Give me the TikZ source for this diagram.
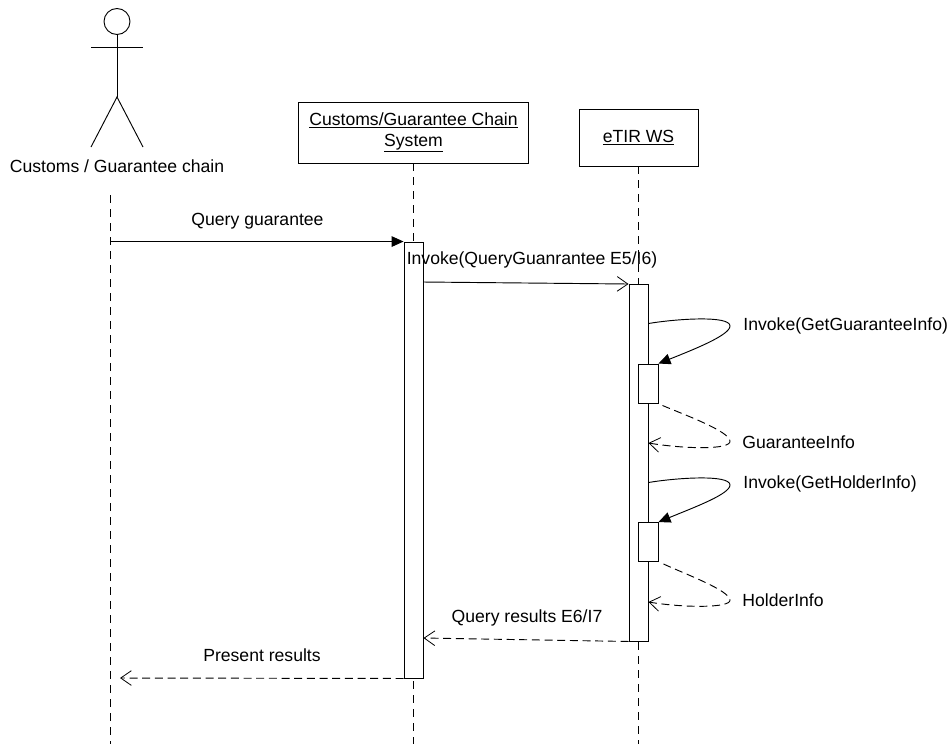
\documentclass[tikz,border=0pt]{standalone}
\usepackage{fontspec}
\setmainfont{Liberation Sans}
\usetikzlibrary{arrows.meta,calc}
\begin{document}
\begin{tikzpicture}[x=0.75pt,y=-0.75pt,line width=0.7pt,
  box/.style={draw,fill=white,inner sep=0pt,align=center,font=\fontsize{13.2}{15.75}\selectfont},
  lbl/.style={inner sep=0pt,font=\fontsize{13.2}{15.75}\selectfont},
  life/.style={dash pattern=on 6pt off 4.5pt},
  ret/.style={dash pattern=on 6pt off 3.5pt,-{Straight Barb[length=8pt,width=11pt,line width=0.6pt]}},
  callf/.style={-{Triangle[length=9pt,width=8pt,fill=black]}},
  callo/.style={-{Straight Barb[length=8pt,width=11pt,line width=0.6pt]}}]
\useasboundingbox (0,0) rectangle (952,744);
% lifeline ends
\coordinate (aTop) at (110,195); \coordinate (aEnd) at (110,744);
\coordinate (bEnd) at (413.5,744); \coordinate (cEnd) at (638.5,744);
% actor
\node[draw,circle,minimum size=19.5pt,inner sep=0pt] (head) at (117,21.5) {};
\coordinate (hip) at (117,97);
\coordinate (armL) at (91,47); \coordinate (armR) at (143,47);
\coordinate (legL) at (91,147); \coordinate (legR) at (143,147);
\draw (head.south) -- (hip);
\draw (armL) -- (armR);
\draw (legL) -- (hip) -- (legR);
\node[lbl] (actor) at (117,166) {Customs / Guarantee chain};
% heads
\node[box,minimum width=173pt,minimum height=45.75pt] (cg) at (413.5,132.5) {\underline{Customs/Guarantee Chain}\\\underline{System}};
\node[box,minimum width=89.25pt,minimum height=42.75pt] (et) at (638.5,137.5) {\underline{eTIR WS}};
% lifelines
\draw[life] (aTop) -- (aEnd);
\draw[life] (cg.south) -- (bEnd);
\draw[life] (et.south) -- (cEnd);
% activations
\node[draw,fill=white,inner sep=0pt,minimum width=14.25pt,minimum height=327pt] (actB) at (413.5,460) {};
\node[draw,fill=white,inner sep=0pt,minimum width=14.25pt,minimum height=267.75pt] (actC) at (638.5,462.5) {};
\node[draw,fill=white,inner sep=0pt,minimum width=15pt,minimum height=29.25pt] (sub1) at (648,383.5) {};
\node[draw,fill=white,inner sep=0pt,minimum width=15pt,minimum height=29.25pt] (sub2) at (648,542) {};
% anchors on the activations
\coordinate (s1) at (actC.east |- 0,323.5);
\coordinate (r1) at (actC.east |- 0,443);
\coordinate (s2) at (actC.east |- 0,482.5);
\coordinate (r2) at (actC.east |- 0,602);
% messages
\draw[callf] (aTop |- actB.north) -- (actB.north west);
\draw[callo] ($(actB.east |- 0,282)$) -- ($(actC.west |- 0,284)$);
\draw[ret] ($(actC.south west)$) -- ($(actB.east |- 0,638)$);
\draw[ret] (actB.south west) -- (120,678);
% self messages
\draw[callf] (s1) .. controls (675,319) and (730,315) .. (730,326) .. controls (730,335) and (695,349) .. (sub1.north east);
\draw[ret] ($(sub1.south east)+(4,2)$) .. controls (685,415) and (729,431) .. (730,441) .. controls (731,450) and (685,449) .. (r1);
\draw[callf] (s2) .. controls (675,478) and (730,474) .. (730,485) .. controls (730,494) and (695,507) .. (sub2.north east);
\draw[ret] ($(sub2.south east)+(5,2)$) .. controls (685,574) and (729,590) .. (730,600) .. controls (731,608) and (685,608) .. (r2);
% labels
\node[lbl] (m1) at (257.5,221) {Query guarantee};
\node[lbl] (m2) at (532,260) {Invoke(QueryGuanrantee E5/I6)};
\node[lbl,anchor=west] (m3) at (743,325.5) {Invoke(GetGuaranteeInfo)};
\node[lbl,anchor=west] (m4) at (742,442) {GuaranteeInfo};
\node[lbl,anchor=west] (m5) at (743,484) {Invoke(GetHolderInfo)};
\node[lbl,anchor=west] (m6) at (742,600.5) {HolderInfo};
\node[lbl] (m7) at (527,618) {Query results E6/I7};
\node[lbl] (m8) at (262,655) {Present results};
\end{tikzpicture}
\end{document}
